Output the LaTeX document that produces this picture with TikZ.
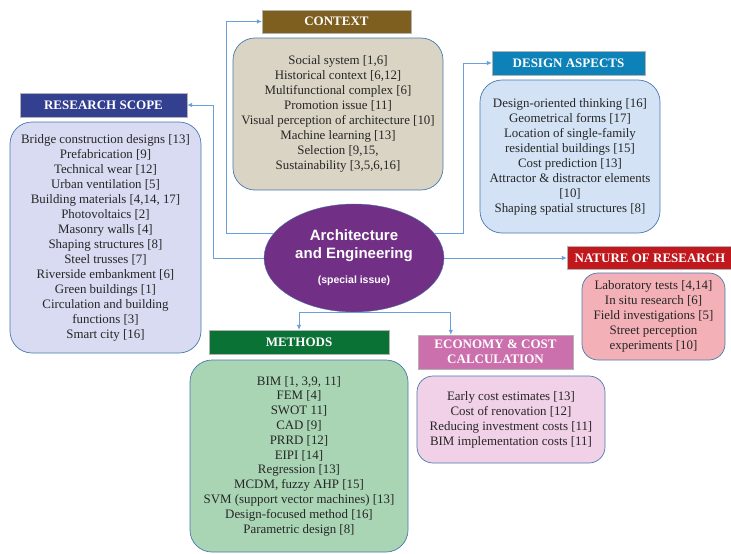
\documentclass[tikz,border=0pt]{standalone}
\usepackage{fontspec}
\setmainfont{Liberation Serif}
\newfontfamily\arialfont{Liberation Sans}
\usetikzlibrary{arrows.meta,shapes.geometric}
\definecolor{linkblue}{HTML}{6A9FD9}
\definecolor{boxline}{HTML}{4A78AE}
\definecolor{textgray}{HTML}{262626}
\definecolor{scopehead}{HTML}{333F8F}
\definecolor{scopefill}{HTML}{D8DBF1}
\definecolor{contexthead}{HTML}{7F5F1F}
\definecolor{contextfill}{HTML}{D9D4C4}
\definecolor{designhead}{HTML}{0D82B8}
\definecolor{designfill}{HTML}{D3E3F5}
\definecolor{naturehead}{HTML}{C0181D}
\definecolor{naturefill}{HTML}{F3B0B6}
\definecolor{methodshead}{HTML}{0B7236}
\definecolor{methodsfill}{HTML}{A9D5B5}
\definecolor{econhead}{HTML}{CC6FAD}
\definecolor{econfill}{HTML}{F1D1E7}
\definecolor{aepurple}{HTML}{722F86}
\begin{document}
\begin{tikzpicture}[x=1pt, y=-1pt, font=\fontsize{12.9}{15}\selectfont,
	head/.style={draw=gray!60, text=white, inner sep=0pt, align=center,
		font=\fontsize{13}{15}\selectfont\bfseries},
	panel/.style={draw=boxline, line width=0.7pt, rounded corners=22pt,
		text=textgray, inner sep=0pt, align=center},
	link/.style={draw=linkblue, line width=0.8pt, -{Latex[length=5pt,width=4.5pt]}}]
	\useasboundingbox (0,0) rectangle (731,554);
	%headers
	\node[head, fill=scopehead, minimum width=167pt, minimum height=24pt] (scope) at (103.5,105) {RESEARCH SCOPE};
	\node[head, fill=contexthead, minimum width=149pt, minimum height=23pt] (context) at (336.5,21.5) {CONTEXT};
	\node[head, fill=designhead, minimum width=153pt, minimum height=24pt] (design) at (568.5,63) {DESIGN ASPECTS};
	\node[head, fill=naturehead, minimum width=166pt, minimum height=23pt] (nature) at (650,258) {NATURE OF RESEARCH};
	\node[head, fill=methodshead, minimum width=180pt, minimum height=24pt] (methods) at (299,342) {METHODS};
	\node[head, fill=econhead, minimum width=155pt, minimum height=34pt] (econ) at (495.5,352) {ECONOMY \& COST\\CALCULATION};
	%boxes
	\node[panel, fill=scopefill, minimum width=191pt, minimum height=231pt] (scopebox) at (105.5,237.5)
	{Bridge construction designs [13]\\ Prefabrication [9]\\ Technical wear [12]\\ Urban ventilation [5]\\
		Building materials [4,14, 17]\\ Photovoltaics [2]\\ Masonry walls [4]\\ Shaping structures [8]\\
		Steel trusses [7]\\ Riverside embankment [6]\\ Green buildings [1]\\ Circulation and building\\
		functions [3]\\ Smart city [16]};
	\node[panel, fill=contextfill, minimum width=210pt, minimum height=152pt] (contextbox) at (338,114)
	{Social system [1,6]\\ Historical context [6,12]\\ Multifunctional complex [6]\\ Promotion issue [11]\\
		Visual perception of architecture [10]\\ Machine learning [13]\\ Selection [9,15,\\ Sustainability [3,5,6,16]};
	\node[panel, fill=designfill, minimum width=180pt, minimum height=153pt] (designbox) at (570,156.5)
	{Design-oriented thinking [16]\\ Geometrical forms [17]\\ Location of single-family\\ residential buildings [15]\\
		Cost prediction [13]\\ Attractor \& distractor elements\\{}[10]\\ Shaping spatial structures [8]};
	\node[panel, fill=naturefill, minimum width=143pt, minimum height=87pt, rounded corners=16pt] (naturebox) at (653.5,316.5)
	{Laboratory tests [4,14]\\ In situ research [6]\\ Field investigations [5]\\ Street perception\\ experiments [10]};
	\node[panel, fill=methodsfill, minimum width=218pt, minimum height=192pt, font=\fontsize{12.9}{14.8}\selectfont] (methodsbox) at (299,456)
	{BIM [1, 3,9, 11]\\ FEM [4]\\ SWOT 11]\\ CAD [9]\\ PRRD [12]\\ EIPI [14]\\ Regression [13]\\
		MCDM, fuzzy AHP [15]\\ SVM (support vector machines) [13]\\ Design-focused method [16]\\ Parametric design [8]};
	\node[panel, fill=econfill, minimum width=188pt, minimum height=87pt, rounded corners=16pt] (econbox) at (511,419.5)
	{Early cost estimates [13]\\ Cost of renovation [12]\\ Reducing investment costs [11]\\ BIM implementation costs [11]};
	%centre
	\node[ellipse, draw=boxline, fill=aepurple, text=white, minimum width=180pt, minimum height=108pt,
		inner sep=0pt, align=center, font=\arialfont\bfseries\fontsize{15}{18}\selectfont] (ae) at (354,258)
	{Architecture\\ and Engineering\\[7pt] {\fontsize{10.5}{12}\selectfont (special issue)}};
	%connectors
	\draw[link] (ae.west) -- ++(-50,0) |- (scope.east);
	\draw[link] (ae.163) -- ++(-47,0) |- (context.west);
	\draw[link] (ae.17) -- ++(29,0) |- (design.west);
	\draw[link] (ae.east) -- (nature.west);
	\draw[link] (ae.south) -| (methods.north);
	\draw[link] (ae.south) -| ([xshift=33pt]econ.north west);
\end{tikzpicture}
\end{document}
